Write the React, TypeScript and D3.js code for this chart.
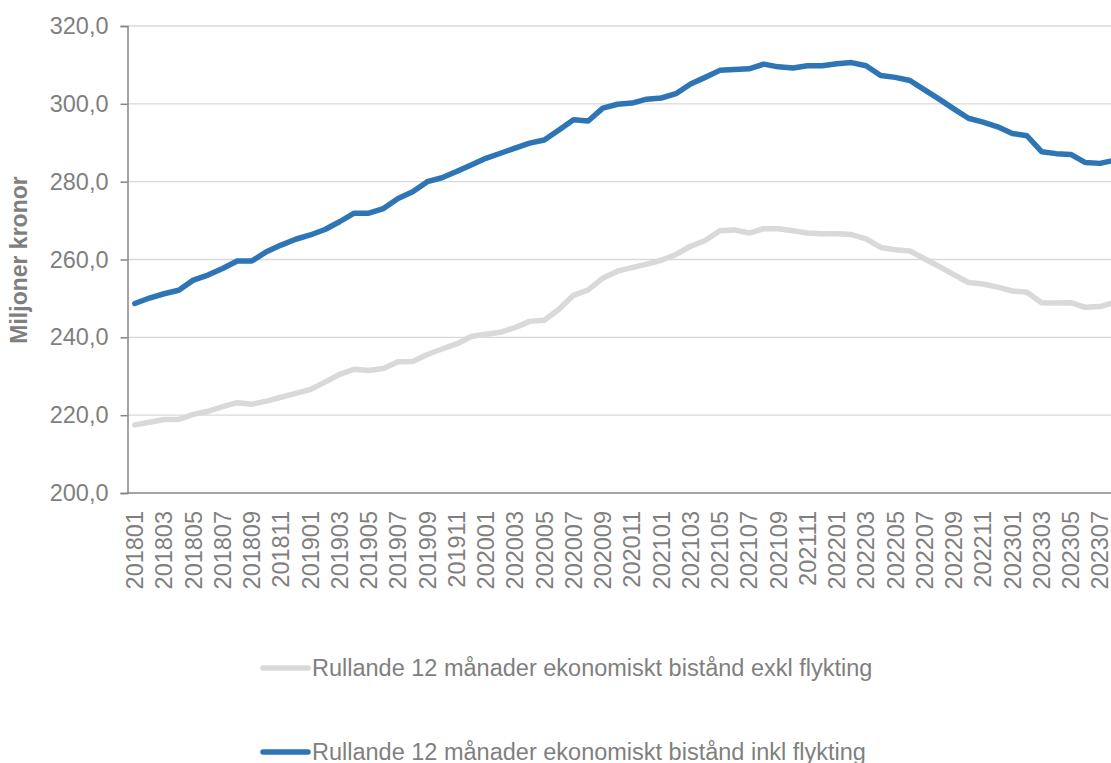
import { useEffect, useRef } from "react";
import * as d3 from "d3";

// months shown on the category axis (YYYYMM)
const months = [
  "201801", "201802", "201803", "201804", "201805", "201806", "201807", "201808", "201809", "201810", "201811", "201812",
  "201901", "201902", "201903", "201904", "201905", "201906", "201907", "201908", "201909", "201910", "201911", "201912",
  "202001", "202002", "202003", "202004", "202005", "202006", "202007", "202008", "202009", "202010", "202011", "202012",
  "202101", "202102", "202103", "202104", "202105", "202106", "202107", "202108", "202109", "202110", "202111", "202112",
  "202201", "202202", "202203", "202204", "202205", "202206", "202207", "202208", "202209", "202210", "202211", "202212",
  "202301", "202302", "202303", "202304", "202305", "202306", "202307", "202308",
];

// Rullande 12 månader ekonomiskt bistånd inkl flykting (Mkr)
const inklFlykting = [
  248.7, 250.1, 251.2, 252.1, 254.7, 256.0, 257.7, 259.6, 259.6, 262.0, 263.7, 265.2,
  266.3, 267.7, 269.7, 271.9, 271.9, 273.1, 275.7, 277.4, 280.0, 281.0, 282.6, 284.3,
  286.0, 287.3, 288.6, 289.9, 290.7, 293.3, 295.9, 295.6, 298.9, 299.9, 300.2, 301.2,
  301.5, 302.6, 305.1, 306.8, 308.6, 308.8, 309.0, 310.2, 309.5, 309.2, 309.8, 309.8,
  310.3, 310.6, 309.8, 307.3, 306.8, 306.0, 303.6, 301.2, 298.7, 296.3, 295.3, 294.1,
  292.4, 291.8, 287.7, 287.2, 287.0, 284.9, 284.7, 285.5,
];

// Rullande 12 månader ekonomiskt bistånd exkl flykting (Mkr)
const exklFlykting = [
  217.5, 218.2, 218.9, 218.9, 220.2, 221.0, 222.2, 223.2, 222.8, 223.6, 224.6, 225.6,
  226.6, 228.5, 230.5, 231.8, 231.5, 232.0, 233.7, 233.8, 235.6, 237.0, 238.3, 240.2,
  240.8, 241.3, 242.5, 244.1, 244.4, 247.2, 250.8, 252.2, 255.2, 257.0, 257.9, 258.8,
  259.8, 261.3, 263.4, 264.9, 267.4, 267.6, 266.8, 267.9, 267.9, 267.4, 266.8, 266.6,
  266.6, 266.4, 265.3, 263.1, 262.5, 262.2, 260.2, 258.2, 256.1, 254.1, 253.7, 252.9,
  251.9, 251.6, 248.9, 248.8, 248.9, 247.7, 247.9, 249.0,
];

const yTicks = [200, 220, 240, 260, 280, 300, 320];

const series = [
  { label: "Rullande 12 månader ekonomiskt bistånd exkl flykting", values: exklFlykting, color: "#d9d9d9" },
  { label: "Rullande 12 månader ekonomiskt bistånd inkl flykting", values: inklFlykting, color: "#2e75b6" },
];

const W = 1111;
const H = 763;
const FONT = "'Liberation Sans', Arial, sans-serif";
const TEXT = "#7f7f7f";
const FS = "23.5px";

export default function App() {
  const ref = useRef<SVGSVGElement | null>(null);

  useEffect(() => {
    if (!ref.current) return;
    const svg = d3.select(ref.current);
    svg.selectAll("*").remove();

    const left = 127.5;
    const top = 26;
    const bottom = 493;

    // the plot runs a little past the right edge of the picture
    const x = d3.scaleBand<string>().domain(months).range([left, 1122]).padding(0);
    const y = d3.scaleLinear().domain([200, 320]).range([bottom, top]);
    const cx = (m: string) => (x(m) || 0) + x.bandwidth() / 2;

    // gridlines
    svg
      .append("g")
      .selectAll("line")
      .data(yTicks.filter((t) => t !== 200))
      .join("line")
      .attr("x1", left)
      .attr("x2", W)
      .attr("y1", (d) => y(d))
      .attr("y2", (d) => y(d))
      .attr("stroke", "#d9d9d9")
      .attr("stroke-width", 1.3);

    // y axis
    const yAxis = svg
      .append("g")
      .attr("transform", `translate(${left},0)`)
      .call(d3.axisLeft(y).tickValues(yTicks).tickSize(7).tickPadding(12).tickFormat((d) => d3.format(".1f")(d as number).replace(".", ",")));
    yAxis.select(".domain").attr("stroke", "#868686").attr("stroke-width", 1.5);
    yAxis.selectAll("line").attr("stroke", "#868686").attr("stroke-width", 1.5);
    yAxis.selectAll("text").attr("fill", TEXT).style("font-family", FONT).style("font-size", FS);

    // x axis line
    svg
      .append("line")
      .attr("x1", left)
      .attr("x2", W)
      .attr("y1", bottom)
      .attr("y2", bottom)
      .attr("stroke", "#868686")
      .attr("stroke-width", 1.5);

    // x labels, every second month
    svg
      .append("g")
      .selectAll("text")
      .data(months.filter((_, i) => i % 2 === 0))
      .join("text")
      .attr("transform", (d) => `translate(${cx(d)},${bottom + 18}) rotate(-90)`)
      .attr("text-anchor", "end")
      .attr("dy", "0.35em")
      .attr("fill", TEXT)
      .style("font-family", FONT)
      .style("font-size", FS)
      .text((d) => d);

    // y title
    svg
      .append("text")
      .attr("transform", `translate(27,260) rotate(-90)`)
      .attr("text-anchor", "middle")
      .attr("fill", TEXT)
      .style("font-family", FONT)
      .style("font-size", "23px")
      .style("font-weight", "bold")
      .text("Miljoner kronor");

    const line = d3
      .line<number>()
      .x((_, i) => cx(months[i]))
      .y((d) => y(d));

    series.forEach((s) => {
      svg
        .append("path")
        .datum(s.values)
        .attr("fill", "none")
        .attr("stroke", s.color)
        .attr("stroke-width", 5.5)
        .attr("stroke-linejoin", "round")
        .attr("stroke-linecap", "round")
        .attr("d", line);
    });

    // legend
    const legend = svg.append("g");
    series.forEach((s, i) => {
      const ly = 668 + i * 84;
      legend
        .append("line")
        .attr("x1", 263)
        .attr("x2", 308)
        .attr("y1", ly)
        .attr("y2", ly)
        .attr("stroke", s.color)
        .attr("stroke-width", 5.5)
        .attr("stroke-linecap", "round");
      legend
        .append("text")
        .attr("x", 312)
        .attr("y", ly)
        .attr("dy", "0.35em")
        .attr("fill", TEXT)
        .style("font-family", FONT)
        .style("font-size", FS)
        .text(s.label);
    });
  }, []);

  return (
    <svg
      ref={ref}
      width={W}
      height={H}
      style={{ position: "absolute", left: 0, top: 0, background: "#fff" }}
    />
  );
}
